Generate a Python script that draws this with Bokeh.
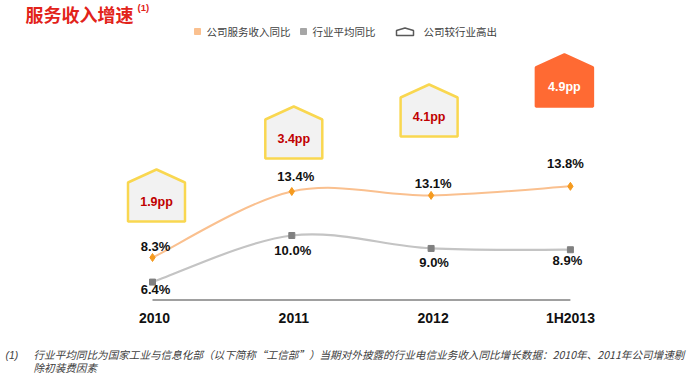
from bokeh.plotting import figure
from bokeh.models import Range1d
from bokeh.core.properties import value
from bokeh.embed import file_html
from bokeh.resources import INLINE

# ---- data ----
categories = ["2010", "2011", "2012", "1H2013"]
company = [8.3, 13.4, 13.1, 13.8]
industry = [6.4, 10.0, 9.0, 8.9]
series_names = ["公司服务收入同比", "行业平均同比"]
gap_name = "公司较行业高出"
title_text = "服务收入增速"
footnote_1 = "行业平均同比为国家工业与信息化部（以下简称“工信部”）当期对外披露的行业电信业务收入同比增长数据：2010年、2011年公司增速剔"
footnote_2 = "除初装费因素"

# ---- layout (pixel helpers) ----
W, H = 690, 375
X0, DX = 152.0, 139.3
Y0, DY = 257.0, 12.94


def X(px):
    return (px - X0) / DX


def Y(py):
    return company[0] + (Y0 - py) / DY


CJK = "Noto Sans CJK SC"
LAT = "Liberation Sans"

p = figure(width=W, height=H, output_backend="svg", toolbar_location=None,
           x_range=Range1d(X(0), X(W)), y_range=Range1d(Y(H), Y(0)),
           x_axis_location=None, y_axis_location=None, min_border=0,
           outline_line_color=None, background_fill_color="white")
p.grid.visible = False

idx = list(range(len(categories)))

# ---- smooth lines via Catmull-Rom bezier segments ----
def bezier_segments(ys):
    n = len(ys)
    x0s, y0s, x1s, y1s, cx0, cy0, cx1, cy1 = [], [], [], [], [], [], [], []
    for i in range(n - 1):
        im1 = max(i - 1, 0)
        ip2 = min(i + 2, n - 1)
        x0s.append(i); y0s.append(ys[i]); x1s.append(i + 1); y1s.append(ys[i + 1])
        cx0.append(i + (i + 1 - im1) / 6.0); cy0.append(ys[i] + (ys[i + 1] - ys[im1]) / 6.0)
        cx1.append(i + 1 - (ip2 - i) / 6.0); cy1.append(ys[i + 1] - (ys[ip2] - ys[i]) / 6.0)
    return dict(x0=x0s, y0=y0s, x1=x1s, y1=y1s, cx0=cx0, cy0=cy0, cx1=cx1, cy1=cy1)

bo = bezier_segments(company)
p.bezier(**bo, line_color="#FAC08F", line_width=2)
bi = bezier_segments(industry)
p.bezier(**bi, line_color="#C4C4C4", line_width=2.2)

p.scatter(idx, company, marker="diamond", size=8, fill_color="#F59A1E", line_color="#F59A1E")
p.scatter(idx, industry, marker="square", size=6, fill_color="#808080", line_color="#808080")

# value labels
comp_off = [11, 15, 12, 23]     # px above point
ind_off = [-7, -15, -14, -11]   # px below point (negative)
comp_dx = [3, 4, 2, -5]
ind_dx = [3, 1, 3, -3]
p.text([X(X0 + i * DX + comp_dx[i]) for i in idx],
       [Y(Y0 - (v - company[0]) * DY - comp_off[i]) for i, v in enumerate(company)],
       text=[f"{v:.1f}%" for v in company], text_align="center", text_baseline="middle",
       text_font=value(LAT), text_font_style="bold", text_font_size="13px", text_color="#111111")
p.text([X(X0 + i * DX + ind_dx[i]) for i in idx],
       [Y(Y0 - (v - company[0]) * DY - ind_off[i]) for i, v in enumerate(industry)],
       text=[f"{v:.1f}%" for v in industry], text_align="center", text_baseline="middle",
       text_font=value(LAT), text_font_style="bold", text_font_size="13px", text_color="#111111")

# axis line and category labels
p.segment(x0=[0], y0=[Y(299.5)], x1=[len(categories) - 1], y1=[Y(299.5)], line_color="#808080", line_width=1.5)
cat_dx = [2, 2, 2, 0]
p.text([X(X0 + i * DX + cat_dx[i]) for i in idx], [Y(317)] * len(idx), text=categories,
       text_align="center", text_baseline="middle", text_font=value(LAT),
       text_font_style="bold", text_font_size="14px", text_color="#111111")

# houses with gap
house_dx = [4, 2, -2, -6]
house_bottom = [221, 158, 136, 106]
hw, hshoulder, hpeak = 28.5, 39, 52
hx, hy, tx, ty = [], [], [], []
for i in idx:
    cx = X0 + i * DX + house_dx[i]
    b = house_bottom[i]
    hx.append([X(cx - hw), X(cx - hw), X(cx), X(cx + hw), X(cx + hw)])
    hy.append([Y(b), Y(b - hshoulder), Y(b - hpeak), Y(b - hshoulder), Y(b)])
    tx.append(X(cx))
    ty.append(Y(b - hshoulder / 2.0))
highlight = len(categories) - 1
fills = ["#FF6A33" if i == highlight else "#F2F2F2" for i in idx]
lines = ["#FF6A33" if i == highlight else "#F9D750" for i in idx]
tcols = ["#FFFFFF" if i == highlight else "#C00000" for i in idx]
p.patches(hx, hy, fill_color=fills, line_color=lines, line_width=2.5)
gaps = [f"{c - d:.1f}pp" for c, d in zip(company, industry)]
p.text(tx, ty, text=gaps, text_align="center", text_baseline="middle", text_font=value(LAT),
       text_font_style="bold", text_font_size="12.5px", text_color=tcols)

# title
p.text([X(25)], [Y(13)], text=[title_text], text_align="left", text_baseline="middle",
       text_font=value(CJK), text_font_style="bold", text_font_size="18px", text_color="#E2231A")
p.text([X(137)], [Y(7)], text=["(1)"], text_align="left", text_baseline="middle",
       text_font=value(LAT), text_font_style="bold", text_font_size="9.5px", text_color="#E2231A")

# legend
p.scatter([X(197)], [Y(31)], marker="square", size=6, fill_color="#FAC08F", line_color="#FAC08F")
p.text([X(206)], [Y(31)], text=[series_names[0]], text_baseline="middle", text_font=value(CJK),
       text_font_size="10.5px", text_color="#404040")
p.scatter([X(303)], [Y(31)], marker="square", size=6, fill_color="#A6A6A6", line_color="#A6A6A6")
p.text([X(312)], [Y(31)], text=[series_names[1]], text_baseline="middle", text_font=value(CJK),
       text_font_size="10.5px", text_color="#404040")
p.patch([X(396), X(396), X(404.5), X(413), X(413)], [Y(35), Y(30), Y(27.5), Y(30), Y(35)],
        fill_color="white", line_color="#595959", line_width=1.5)
p.text([X(423)], [Y(31)], text=[gap_name], text_baseline="middle", text_font=value(CJK),
       text_font_size="10.5px", text_color="#404040")

# footnote
p.text([X(5)], [Y(354)], text=["(1)"], text_baseline="middle", text_font=value(LAT),
       text_font_style="italic", text_font_size="10.5px", text_color="#404040")
p.text([X(33), X(33)], [Y(354), Y(367)], text=[footnote_1, footnote_2], text_baseline="middle",
       text_font=value("Noto Sans CJK SC"), text_font_style="italic",
       text_font_size="10.6px", text_color="#404040")

open("out.html", "w").write(file_html(p, INLINE))
